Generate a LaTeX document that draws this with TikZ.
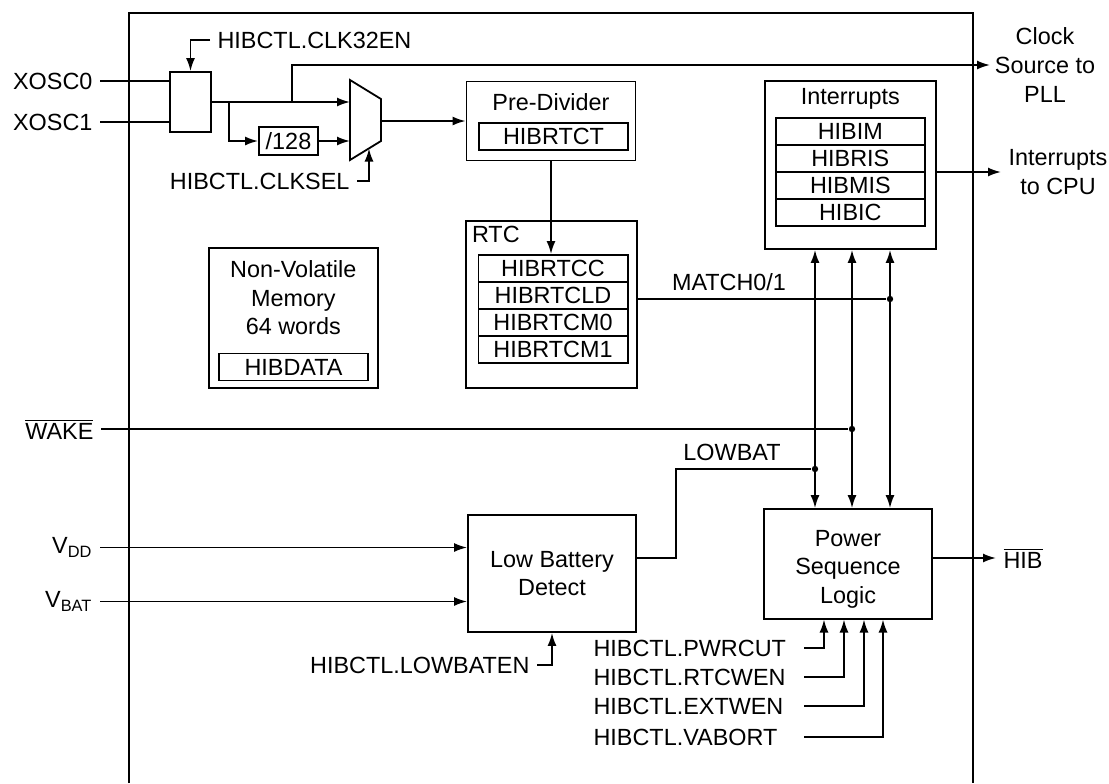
\documentclass[tikz,border=0pt]{standalone}
\usepackage{fontspec}
\setmainfont{Liberation Sans}
\usetikzlibrary{arrows.meta,positioning}
\begin{document}
\begin{tikzpicture}[x=0.5pt,y=-0.5pt,>={Latex[length=6.5pt,width=4.5pt]},line width=0.9pt,
    font=\fontsize{11.7}{14.3}\selectfont,
    blk/.style={draw,inner sep=0pt},
    reg/.style={draw,minimum width=74.6pt,minimum height=13.55pt,inner sep=0pt},
    jn/.style={circle,fill,inner sep=0pt,minimum size=3.2pt}]
    \useasboundingbox(0,0)rectangle(1109,783);
    \draw(129,783)--(129,13)--(973,13)--(973,783);
    % clock select and mux
    \node[blk,minimum width=20.5pt,minimum height=30pt](sel)at(190.5,102){};
    \node[left](x0)at(100,81){XOSC0};
    \node[left](x1)at(100,122){XOSC1};
    \draw(x0.east)--(sel.west|-x0);
    \draw(x1.east)--(sel.west|-x1);
    \node[right](clken)at(210,40){HIBCTL.CLK32EN};
    \draw[->](clken.west)-|(sel.north);
    \draw(350,80)--(381,99)--(381,141)--(350,160)--cycle;
    \coordinate(muxa)at(350,102);\coordinate(muxb)at(350,141);
    \coordinate(muxo)at(381,121);\coordinate(muxs)at(369,148.5);
    \coordinate(br1)at(229,102);\coordinate(br2)at(292,102);
    \node[blk,minimum width=29.5pt,minimum height=14pt](div)at(288.5,141){/128};
    \draw[->](sel.east)--(muxa);
    \draw[->](br1)|-(div.west);
    \draw[->](div.east)--(muxb);
    \node[left](clks)at(357,181){HIBCTL.CLKSEL};
    \draw[->](clks.east)-|(muxs);
    \node[right,align=center,inner sep=2pt](pll)at(990,65){Clock\\Source to\\PLL};
    \draw[->](br2)--(292,65)--(pll.west);
    % pre-divider and rtc
    \node[blk,minimum width=84.5pt,minimum height=39.5pt](pre)at(551,121){};
    \node at(551,102){Pre-Divider};
    \node[reg](rtct)at(553.5,136.5){HIBRTCT};
    \draw[->](muxo)--(pre.west|-muxo);
    \node[blk,minimum width=85.3pt,minimum height=83.7pt](rtc)at(551.3,304.3){};
    \node[anchor=north west,inner sep=3pt]at(rtc.north west){RTC};
    \foreach\n[count=\i]in{HIBRTCC,HIBRTCLD,HIBRTCM0,HIBRTCM1}
        \node[reg](r\i)at(553,241.5+27*\i){\n};
    \draw[->](pre.south)--(pre.south|-r1.north);
    % non-volatile memory
    \node[blk,minimum width=84.3pt,minimum height=70pt](nvm)at(293.3,318){};
    \node[align=center]at(293.3,298){Non-Volatile\\Memory\\64 words};
    \node[reg](hd)at(293.5,367){HIBDATA};
    % interrupts
    \node[blk,minimum width=85.3pt,minimum height=84pt](int)at(850.3,165){};
    \node at(850.3,99){Interrupts};
    \foreach\n[count=\i]in{HIBIM,HIBRIS,HIBMIS,HIBIC}
        \node[reg](i\i)at(850.3,104.2+27.1*\i){\n};
    \node[right,align=center](cpu)at(1001,172){Interrupts\\to CPU};
    \draw[->](int.east|-cpu)--(cpu.west);
    % low battery and power sequence
    \node[blk,minimum width=84pt,minimum height=58.5pt,align=center](lbd)at(552,573.5){Low Battery\\Detect};
    \node[blk,minimum width=84pt,minimum height=54.8pt](psl)at(848,563.8){};
    \node[align=center]at(848,569){Power\\Sequence\\Logic};
    \foreach\x in{815,852,890}\draw[<->](int.south-|\x,0)--(psl.north-|\x,0);
    \node[jn](dm)at(890,299){};
    \node[jn](dw)at(852,429){};
    \node[jn](dl)at(815,469){};
    \draw(rtc.east|-dm)--(dm);
    \node at(729,282){MATCH0/1};
    \node[left](wake)at(101,429){$\overline{\mbox{WAKE}}$};
    \draw(wake.east)--(dw);
    \node[left](vdd)at(100,547.5){V\textsubscript{DD}};
    \node[left](vbat)at(100,601.5){V\textsubscript{BAT}};
    \draw[->](vdd.east)--(lbd.west|-vdd);
    \draw[->](vbat.east)--(lbd.west|-vbat);
    \node[left](lben)at(537,665){HIBCTL.LOWBATEN};
    \draw[->](lben.east)-|(lbd.south);
    \draw(lbd.east|-0,558)--(676,558)--(676,469)--(dl);
    \node at(732,452){LOWBAT};
    \node[right](hib)at(996,558){$\overline{\mbox{HIB}}$};
    \draw[->](psl.east|-hib)--(hib.west);
    \foreach\n/\y/\x[count=\i]in{PWRCUT/648/824,RTCWEN/677/844,EXTWEN/706/864,VABORT/737/883}{
        \node[right](c\i)at(586,\y){HIBCTL.\n};
        \coordinate(e\i)at(804,\y);
        \draw[->](e\i)-|(psl.south-|\x,0);
    }
\end{tikzpicture}
\end{document}
